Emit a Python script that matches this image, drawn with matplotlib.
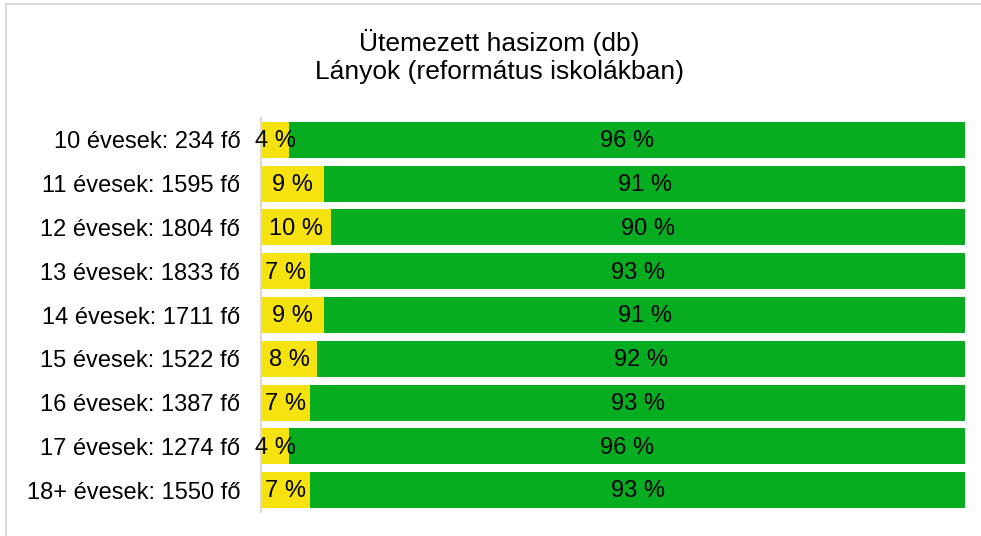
import matplotlib
matplotlib.use("Agg")
import matplotlib.pyplot as plt
from matplotlib.patches import Rectangle

categories = ["10 évesek: 234 fő", "11 évesek: 1595 fő", "12 évesek: 1804 fő",
              "13 évesek: 1833 fő", "14 évesek: 1711 fő", "15 évesek: 1522 fő",
              "16 évesek: 1387 fő", "17 évesek: 1274 fő", "18+ évesek: 1550 fő"]
yellow_vals = [4, 9, 10, 7, 9, 8, 7, 4, 7]
green_vals = [96, 91, 90, 93, 91, 92, 93, 96, 93]
title_lines = ["Ütemezett hasizom (db)", "Lányok (református iskolákban)"]

YELLOW = "#F6E20E"
GREEN = "#06AD20"

plt.rcParams['font.family'] = ['Liberation Sans', 'DejaVu Sans']

W, H = 981, 536
fig = plt.figure(figsize=(W / 100, H / 100), dpi=100)
fig.patch.set_facecolor("white")

# outer frame (only top and left visible in crop)
fig.add_artist(Rectangle((6 / W, -0.1), 1.2, (H - 4) / H + 0.1,
                         transform=fig.transFigure, fill=False,
                         edgecolor="#D9D9D9", linewidth=1.5))

left, right = 261 / W, 965 / W
top, bottom = 118 / H, 512 / H
ax = fig.add_axes([left, 1 - bottom, right - left, bottom - top])

y = list(range(len(categories)))
ax.barh(y, yellow_vals, height=0.82, color=YELLOW, linewidth=0)
ax.barh(y, green_vals, left=yellow_vals, height=0.82, color=GREEN, linewidth=0)

FS = 17
for i, (yv, gv) in enumerate(zip(yellow_vals, green_vals)):
    ax.text(yv / 2, i + 0.03, f"{yv} %", ha="center", va="center", fontsize=FS, color="black")
    ax.text(yv + gv / 2, i + 0.03, f"{gv} %", ha="center", va="center", fontsize=FS, color="black")

ax.set_xlim(0, 100)
ax.set_ylim(len(categories) - 0.5, -0.5)
ax.set_yticks(y)
ax.set_yticklabels(categories, fontsize=FS)
ax.tick_params(axis="y", length=0, pad=15)
ax.set_xticks([])
for s in ["top", "right", "bottom"]:
    ax.spines[s].set_visible(False)
ax.spines["left"].set_color("#D9D9D9")
ax.spines["left"].set_linewidth(1.5)

fig.text(499 / W, 1 - 42 / H, title_lines[0], ha="center", va="center", fontsize=19)
fig.text(499 / W, 1 - 72 / H, title_lines[1], ha="center", va="center", fontsize=19)

fig.savefig("out.png", dpi=100, facecolor="white")
